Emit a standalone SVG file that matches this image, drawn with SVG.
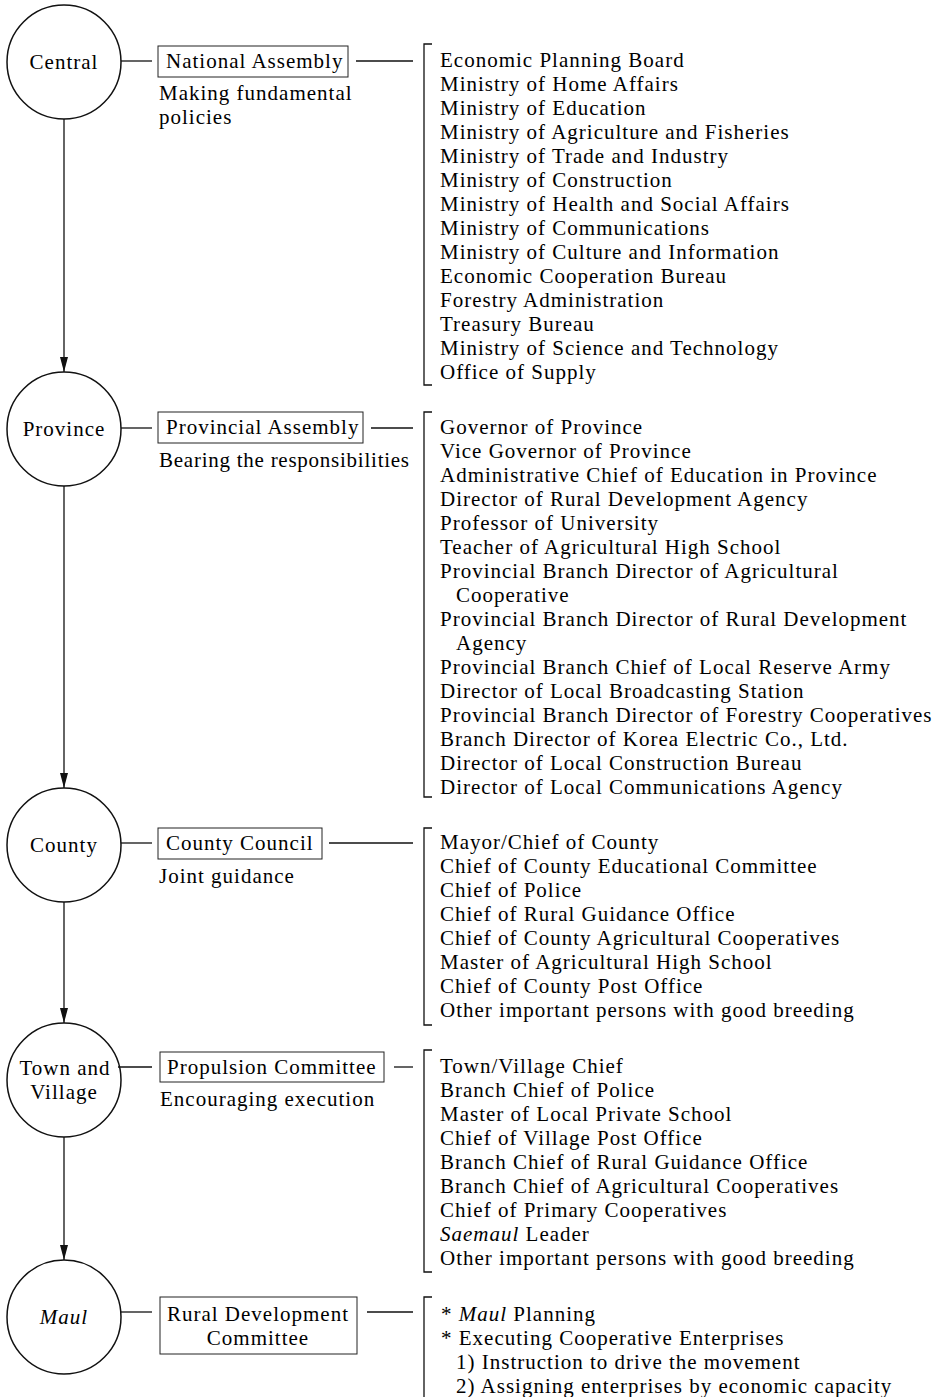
<svg xmlns="http://www.w3.org/2000/svg" width="946" height="1397" viewBox="0 0 946 1397">
<style>
text{font-family:"Liberation Serif","Times New Roman",serif;font-size:21px;fill:#000;letter-spacing:1px}
.c{text-anchor:middle}
.i{font-style:italic}
.ln{stroke:#111;stroke-width:1.3;fill:none}
.box{stroke:#222;stroke-width:1;fill:none}
.circ{stroke:#111;stroke-width:1.5;fill:none}
</style>
<defs>
<marker id="ah" markerWidth="15" markerHeight="8" refX="15" refY="4" orient="auto" markerUnits="userSpaceOnUse" viewBox="0 0 15 8">
<path d="M0,0 L15,4 L0,8 Z" fill="#111"/>
</marker>
</defs>
<rect width="946" height="1397" fill="#fff"/>

<g id="connectors">
<line class="ln" x1="64" y1="119" x2="64" y2="372" marker-end="url(#ah)"/>
<line class="ln" x1="64" y1="486" x2="64" y2="788" marker-end="url(#ah)"/>
<line class="ln" x1="64" y1="902" x2="64" y2="1023" marker-end="url(#ah)"/>
<line class="ln" x1="64" y1="1137" x2="64" y2="1260" marker-end="url(#ah)"/>
<line class="ln" x1="121" y1="61" x2="152" y2="61"/>
<line class="ln" x1="356" y1="61" x2="413" y2="61"/>
<line class="ln" x1="121" y1="428" x2="152" y2="428"/>
<line class="ln" x1="371" y1="428" x2="413" y2="428"/>
<line class="ln" x1="121" y1="843" x2="152" y2="843"/>
<line class="ln" x1="329" y1="843" x2="413" y2="843"/>
<line class="ln" x1="118" y1="1067" x2="152" y2="1067"/>
<line class="ln" x1="394" y1="1067" x2="413" y2="1067"/>
<line class="ln" x1="121" y1="1312" x2="152" y2="1312"/>
<line class="ln" x1="367" y1="1312" x2="413" y2="1312"/>
</g>

<g id="central">
<circle class="circ" cx="64" cy="62" r="57"/>
<text class="c" x="64" y="69">Central</text>
</g>
<g id="national-assembly">
<rect class="box" x="158" y="46" width="190" height="31"/>
<text x="166" y="68">National Assembly</text>
<text x="159" y="100">Making fundamental</text>
<text x="159" y="124">policies</text>
</g>
<g id="central-list">
<path class="ln" d="M432,44 H424 V385 H432"/>
<text x="440" y="67">Economic Planning Board</text>
<text x="440" y="91">Ministry of Home Affairs</text>
<text x="440" y="115">Ministry of Education</text>
<text x="440" y="139">Ministry of Agriculture and Fisheries</text>
<text x="440" y="163">Ministry of Trade and Industry</text>
<text x="440" y="187">Ministry of Construction</text>
<text x="440" y="211">Ministry of Health and Social Affairs</text>
<text x="440" y="235">Ministry of Communications</text>
<text x="440" y="259">Ministry of Culture and Information</text>
<text x="440" y="283">Economic Cooperation Bureau</text>
<text x="440" y="307">Forestry Administration</text>
<text x="440" y="331">Treasury Bureau</text>
<text x="440" y="355">Ministry of Science and Technology</text>
<text x="440" y="379">Office of Supply</text>
</g>

<g id="province">
<circle class="circ" cx="64" cy="429" r="57"/>
<text class="c" x="64" y="436">Province</text>
</g>
<g id="provincial-assembly">
<rect class="box" x="158" y="412" width="205" height="31"/>
<text x="166" y="434">Provincial Assembly</text>
<text x="159" y="467" style="letter-spacing:0.75px">Bearing the responsibilities</text>
</g>
<g id="province-list">
<path class="ln" d="M432,412 H424 V797 H432"/>
<text x="440" y="434">Governor of Province</text>
<text x="440" y="458">Vice Governor of Province</text>
<text x="440" y="482">Administrative Chief of Education in Province</text>
<text x="440" y="506">Director of Rural Development Agency</text>
<text x="440" y="530">Professor of University</text>
<text x="440" y="554">Teacher of Agricultural High School</text>
<text x="440" y="578">Provincial Branch Director of Agricultural</text>
<text x="456" y="602">Cooperative</text>
<text x="440" y="626">Provincial Branch Director of Rural Development</text>
<text x="456" y="650">Agency</text>
<text x="440" y="674">Provincial Branch Chief of Local Reserve Army</text>
<text x="440" y="698">Director of Local Broadcasting Station</text>
<text x="440" y="722">Provincial Branch Director of Forestry Cooperatives</text>
<text x="440" y="746">Branch Director of Korea Electric Co., Ltd.</text>
<text x="440" y="770">Director of Local Construction Bureau</text>
<text x="440" y="794">Director of Local Communications Agency</text>
</g>

<g id="county">
<circle class="circ" cx="64" cy="845" r="57"/>
<text class="c" x="64" y="852">County</text>
</g>
<g id="county-council">
<rect class="box" x="158" y="828" width="164" height="31"/>
<text x="166" y="850">County Council</text>
<text x="159" y="883">Joint guidance</text>
</g>
<g id="county-list">
<path class="ln" d="M432,828 H424 V1025 H432"/>
<text x="440" y="849">Mayor/Chief of County</text>
<text x="440" y="873">Chief of County Educational Committee</text>
<text x="440" y="897">Chief of Police</text>
<text x="440" y="921">Chief of Rural Guidance Office</text>
<text x="440" y="945">Chief of County Agricultural Cooperatives</text>
<text x="440" y="969">Master of Agricultural High School</text>
<text x="440" y="993">Chief of County Post Office</text>
<text x="440" y="1017">Other important persons with good breeding</text>
</g>

<g id="town-village">
<circle class="circ" cx="64" cy="1080" r="57"/>
<text class="c" x="65" y="1075">Town and</text>
<text class="c" x="64" y="1099">Village</text>
</g>
<g id="propulsion-committee">
<rect class="box" x="160" y="1052" width="224" height="30"/>
<text x="167" y="1074">Propulsion Committee</text>
<text x="160" y="1106">Encouraging execution</text>
</g>
<g id="town-list">
<path class="ln" d="M432,1050 H424 V1272 H432"/>
<text x="440" y="1073">Town/Village Chief</text>
<text x="440" y="1097">Branch Chief of Police</text>
<text x="440" y="1121">Master of Local Private School</text>
<text x="440" y="1145">Chief of Village Post Office</text>
<text x="440" y="1169">Branch Chief of Rural Guidance Office</text>
<text x="440" y="1193">Branch Chief of Agricultural Cooperatives</text>
<text x="440" y="1217">Chief of Primary Cooperatives</text>
<text x="440" y="1241"><tspan class="i">Saemaul</tspan> Leader</text>
<text x="440" y="1265">Other important persons with good breeding</text>
</g>

<g id="maul">
<circle class="circ" cx="64" cy="1317" r="57"/>
<text class="c i" x="64" y="1324">Maul</text>
</g>
<g id="rural-development-committee">
<rect class="box" x="160" y="1297" width="197" height="57"/>
<text class="c" x="258" y="1321">Rural Development</text>
<text class="c" x="258" y="1345">Committee</text>
</g>
<g id="maul-list">
<path class="ln" d="M432,1297 H424 V1397"/>
<text x="441" y="1321">* <tspan class="i">Maul</tspan> Planning</text>
<text x="441" y="1345">* Executing Cooperative Enterprises</text>
<text x="456" y="1369">1) Instruction to drive the movement</text>
<text x="456" y="1393">2) Assigning enterprises by economic capacity</text>
</g>
</svg>
